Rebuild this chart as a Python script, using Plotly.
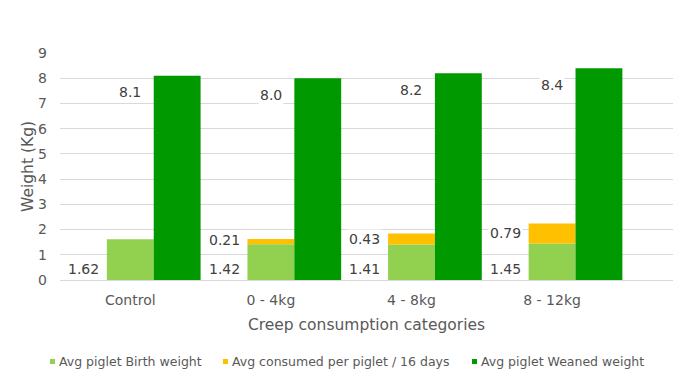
import plotly.graph_objects as go

categories = ["Control", "0 - 4kg", "4 - 8kg", "8 - 12kg"]
birth_weight = [1.62, 1.42, 1.41, 1.45]
consumed = [0.0, 0.21, 0.43, 0.79]
weaned_weight = [8.1, 8.0, 8.2, 8.4]
birth_labels = ["1.62", "1.42", "1.41", "1.45"]
consumed_labels = ["", "0.21", "0.43", "0.79"]
weaned_labels = ["8.1", "8.0", "8.2", "8.4"]
series_names = ["Avg piglet Birth weight", "Avg consumed per piglet / 16 days", "Avg piglet Weaned weight"]
colors = ["#92D050", "#FFC000", "#009900"]

FONT = "DejaVu Sans"
W = 1 / 3

# layout geometry (pixels)
WIDTH, HEIGHT = 700, 390
ML, MR, MT, MB = 60, 27, 53, 110
PW = WIDTH - ML - MR
PH = HEIGHT - MT - MB


def px_x(px):
    return (px - ML) / PW


def px_y(py):
    return (HEIGHT - MB - py) / PH


fig = go.Figure()
fig.add_trace(go.Bar(x=categories, y=birth_weight, width=W, offset=-W / 2, name=series_names[0],
                     marker=dict(color=colors[0], line=dict(width=0)), showlegend=False))
fig.add_trace(go.Bar(x=categories, y=consumed, base=birth_weight, width=W, offset=-W / 2,
                     name=series_names[1],
                     marker=dict(color=colors[1], line=dict(width=0)), showlegend=False))
fig.add_trace(go.Bar(x=categories, y=weaned_weight, width=W, offset=W / 2, name=series_names[2],
                     marker=dict(color=colors[2], line=dict(width=0)), showlegend=False))

annotations = []
shapes = []
lab_font = dict(family=FONT, size=14, color="#404040")
for i in range(len(categories)):
    annotations.append(dict(x=i - W, y=0.45, text=birth_labels[i], showarrow=False,
                            font=lab_font, bgcolor="white", xref="x", yref="y"))
    if consumed_labels[i]:
        annotations.append(dict(x=i - W, y=birth_weight[i] + max(consumed[i] / 2, 0.17),
                                text=consumed_labels[i], showarrow=False,
                                font=lab_font, bgcolor="white", xref="x", yref="y"))
    annotations.append(dict(x=i, y=weaned_weight[i] - 0.66, text=weaned_labels[i],
                            showarrow=False, font=lab_font, bgcolor="white", xref="x", yref="y"))

# manual legend (small square swatches like the original)
legend_marker_px = [50, 223, 472]
LEG_Y = 361.5
for name, c, mx in zip(series_names, colors, legend_marker_px):
    shapes.append(dict(type="rect", xref="paper", yref="paper",
                       x0=px_x(mx), x1=px_x(mx + 5), y0=px_y(LEG_Y - 2.5), y1=px_y(LEG_Y + 2.5),
                       fillcolor=c, line=dict(width=0), layer="above"))
    annotations.append(dict(x=px_x(mx + 7), y=px_y(LEG_Y), xref="paper", yref="paper",
                            xanchor="left", yanchor="middle", text=name, showarrow=False,
                            font=dict(family=FONT, size=12.5, color="#595959")))

fig.update_layout(
    width=WIDTH, height=HEIGHT,
    margin=dict(l=ML, r=MR, t=MT, b=MB),
    paper_bgcolor="white", plot_bgcolor="white",
    barmode="overlay",
    showlegend=False,
    font=dict(family=FONT, color="#595959"),
    annotations=annotations,
    shapes=shapes,
    xaxis=dict(type="category", range=[-0.5, 3.86], showgrid=False, zeroline=False,
               showline=False, ticks="", ticklabelstandoff=10, automargin=False,
               tickfont=dict(family=FONT, size=14, color="#595959"),
               title=dict(text="Creep consumption categories", standoff=12,
                          font=dict(family=FONT, size=15.5, color="#595959"))),
    yaxis=dict(range=[0, 9], dtick=1, showgrid=True, gridcolor="#D9D9D9", gridwidth=1,
               zeroline=True, zerolinecolor="#D9D9D9", zerolinewidth=1, automargin=False,
               showline=False, ticks="", ticklabelstandoff=12,
               tickfont=dict(family=FONT, size=14, color="#595959"),
               title=dict(text="Weight (Kg)", standoff=0,
                          font=dict(family=FONT, size=15.5, color="#595959"))),
)

fig.write_html("out.html", config={"displayModeBar": False},
               post_script="document.body.style.margin='0';")
